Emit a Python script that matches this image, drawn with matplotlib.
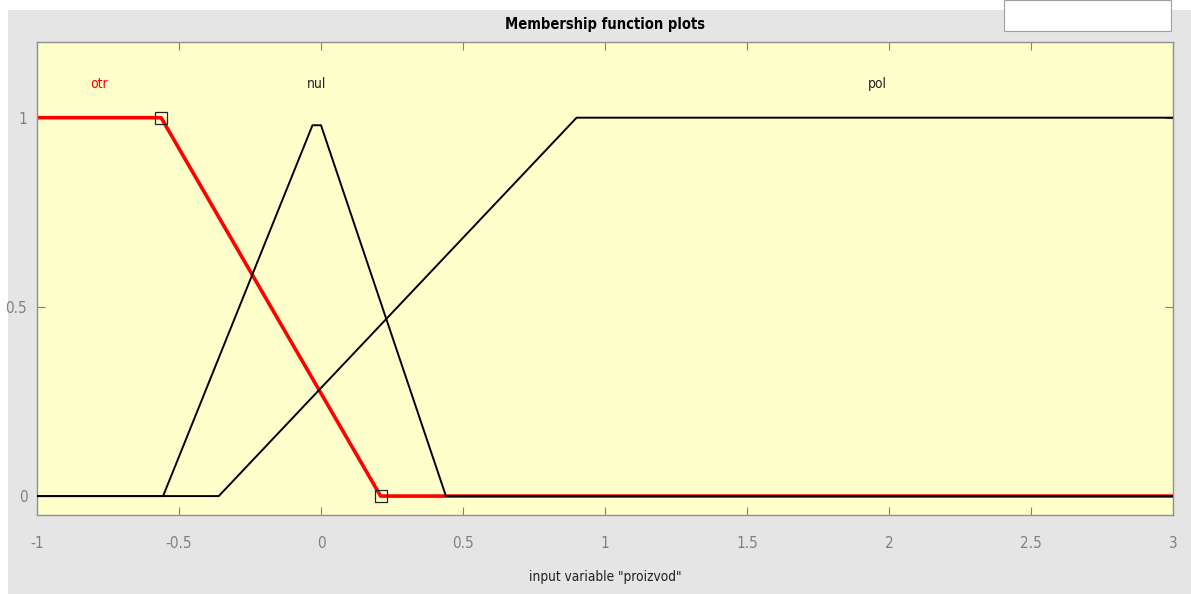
import matplotlib.pyplot as plt
from matplotlib.patches import Rectangle

# membership functions of input variable "proizvod" (vertex points)
otr_x = [-1.0, -0.563, 0.21, 3.0]
otr_y = [1.0, 1.0, 0.0, 0.0]
nul_x = [-1.0, -0.556, -0.03, 0.0, 0.44, 3.0]
nul_y = [0.0, 0.0, 0.98, 0.98, 0.0, 0.0]
pol_x = [-1.0, -0.36, 0.9, 3.0]
pol_y = [0.0, 0.0, 1.0, 1.0]

names = ['otr', 'nul', 'pol']
label_x = [-0.78, -0.015, 1.96]
label_y = 1.09

xticks = [-1, -0.5, 0, 0.5, 1, 1.5, 2, 2.5, 3]
xticklabels = ['-1', '-0.5', '0', '0.5', '1', '1.5', '2', '2.5', '3']
yticks = [0, 0.5, 1]
yticklabels = ['0', '0.5', '1']

plt.rcParams['font.family'] = ['DejaVu Sans']
plt.rcParams['font.stretch'] = 'condensed'

fig = plt.figure(figsize=(11.91, 5.94), dpi=100)
fig.patch.set_facecolor('white')
# gray panel behind the axes, white box top right
fig.add_artist(Rectangle((8/1191, 0), 1 - 8/1191, 1 - 10/594, transform=fig.transFigure,
                         facecolor='#e5e5e5', edgecolor='none', zorder=0))
fig.add_artist(Rectangle((1004/1191, 1 - 31/594), 167/1191, 31/594, transform=fig.transFigure,
                         facecolor='white', edgecolor='#a0a0a0', lw=0.8, zorder=1))

ax = fig.add_axes([37/1191, 79/594, 1136/1191, 473/594])
ax.set_facecolor('#ffffcc')

ax.plot(otr_x, otr_y, color='red', lw=2.6, zorder=2)
ax.plot(nul_x, nul_y, color='black', lw=1.4, zorder=3)
ax.plot(pol_x, pol_y, color='black', lw=1.4, zorder=3)
ax.plot([otr_x[1], otr_x[2]], [otr_y[1], otr_y[2]], ls='none', marker='s', ms=8,
        mfc='none', mec='#222222', mew=0.9, zorder=4)

for i, n in enumerate(names):
    ax.text(label_x[i], label_y, n, ha='center', va='center', fontsize=10,
            color='red' if n == 'otr' else '#222222')

ax.set_xlim(-1, 3)
ax.set_ylim(-0.05, 1.2)
ax.set_xticks(xticks)
ax.set_xticklabels(xticklabels)
ax.set_yticks(yticks)
ax.set_yticklabels(yticklabels)
ax.tick_params(direction='in', length=6, width=0.8, color='#808080', labelcolor='#808080',
               labelsize=11, top=True, right=True)
ax.tick_params(axis='x', pad=15)
ax.tick_params(axis='y', pad=7)
for s in ax.spines.values():
    s.set_color('#909090')
    s.set_linewidth(1.0)

ax.set_xlabel('input variable "proizvod"', fontsize=9.8, color='#222222', labelpad=14)
ax.set_title('Membership function plots', fontsize=10.5, fontweight='bold', pad=9)

fig.savefig('out.png', dpi=100)
